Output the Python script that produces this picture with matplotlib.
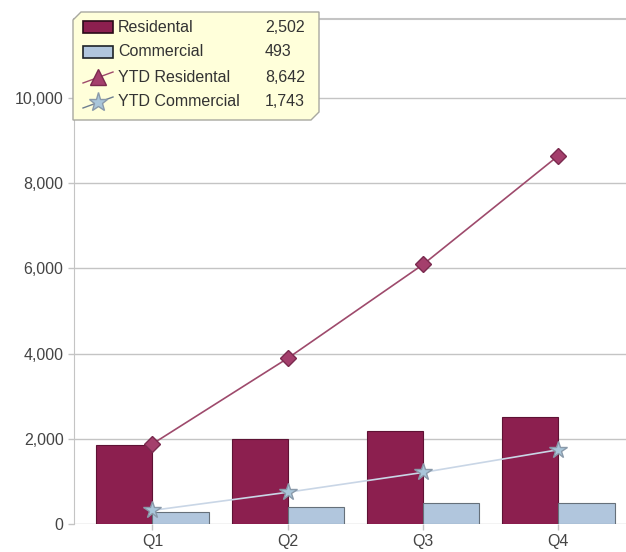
import numpy as np
import matplotlib.pyplot as plt
from matplotlib.patches import Polygon, Rectangle
from matplotlib.lines import Line2D
from matplotlib.ticker import FuncFormatter

plt.rcParams['font.family'] = ['Liberation Sans', 'DejaVu Sans']

quarters = ['Q1', 'Q2', 'Q3', 'Q4']
residential = [1860, 2000, 2190, 2502]
commercial = [290, 400, 490, 493]
ytd_residential = [1880, 3890, 6090, 8642]
ytd_commercial = [320, 745, 1210, 1743]

res_color = '#8C1F4F'
res_edge = '#5E1234'
com_color = '#B1C6DD'
com_edge = '#66707A'
grid_color = '#C4C4C4'
text_color = '#444444'

W, H = 626, 552
fig = plt.figure(figsize=(W / 100, H / 100), dpi=100)
ax = fig.add_axes([74 / W, 28 / H, (W - 74) / W, (524 - 19) / H])

x = np.arange(len(quarters))
bw = 0.415
ax.bar(x - bw / 2, residential, bw, color=res_color, edgecolor=res_edge, linewidth=0.8, zorder=2)
ax.bar(x + bw / 2, commercial, bw, color=com_color, edgecolor=com_edge, linewidth=0.8, zorder=2)

ax.plot(x, ytd_residential, color='#9E4A6C', linewidth=1.2, marker='D', markersize=8,
        markerfacecolor='#A43F6C', markeredgecolor='#7A2A4E', zorder=3)
ax.plot(x, ytd_commercial, color='#C9D6E6', linewidth=1.2, marker='*', markersize=13,
        markerfacecolor='#A9C6DA', markeredgecolor='#8A9AAA', zorder=3)

ax.set_xlim(-0.58, 3.5)
ax.set_ylim(0, 11850)
ax.set_yticks(range(0, 10001, 2000))
ax.yaxis.set_major_formatter(FuncFormatter(lambda v, p: f'{int(v):,}'))
ax.set_xticks(x)
ax.set_xticklabels(quarters)
ax.tick_params(axis='both', colors=grid_color, labelcolor=text_color, labelsize=11.5,
               length=4, width=1)
ax.grid(axis='y', color=grid_color, linewidth=1, zorder=0)
ax.set_axisbelow(True)
for side in ['right', 'bottom']:
    ax.spines[side].set_visible(False)
ax.spines['left'].set_color(grid_color)
ax.spines['top'].set_color(grid_color)
ax.spines['top'].set_linewidth(1.5)


# legend box with clipped corners, drawn in pixel space
def px(xp, yp):
    return (xp / W, 1 - yp / H)


L, T, R, B, c = 73, 12, 319, 120, 8
box = Polygon([px(L + c, T), px(R, T), px(R, B - c), px(R - c, B), px(L, B), px(L, T + c)],
              closed=True, transform=fig.transFigure, facecolor='#FFFFDA',
              edgecolor='#A8A8A0', linewidth=1, zorder=10)
fig.patches.append(box)

labels = ['Residental', 'Commercial', 'YTD Residental', 'YTD Commercial']
values = [residential[-1], commercial[-1], ytd_residential[-1], ytd_commercial[-1]]
rows = [27, 52, 77, 102]

for i, (lab, val, yr) in enumerate(zip(labels, values, rows)):
    if i < 2:
        fc, ec = (res_color, '#2A0A18') if i == 0 else (com_color, '#1E2328')
        sw = Rectangle(px(83, yr + 6), 30 / W, 12 / H, transform=fig.transFigure,
                       facecolor=fc, edgecolor=ec, linewidth=1.2, zorder=11)
        fig.patches.append(sw)
    else:
        if i == 2:
            lc, mk, mfc, mec, ms = '#9E4A6C', '^', '#A43F6C', '#7A2A4E', 11
        else:
            lc, mk, mfc, mec, ms = '#6E7E90', '*', '#A9C6DA', '#8A9AAA', 14
        fig.lines.append(Line2D([83 / W, 113 / W], [1 - (yr + 6) / H, 1 - (yr - 5) / H],
                                transform=fig.transFigure, color=lc, linewidth=1, zorder=11))
        fig.lines.append(Line2D([98 / W], [1 - yr / H], transform=fig.transFigure,
                                marker=mk, markersize=ms, markerfacecolor=mfc,
                                markeredgecolor=mec, linestyle='none', zorder=12))
    fig.text(118 / W, 1 - yr / H, lab, ha='left', va='center', fontsize=11.5,
             color='#333333', zorder=12)
    fig.text(265 / W, 1 - yr / H, f'{val:,}', ha='left', va='center', fontsize=11.5,
             color='#333333', zorder=12)

fig.savefig('out.png', dpi=100)
